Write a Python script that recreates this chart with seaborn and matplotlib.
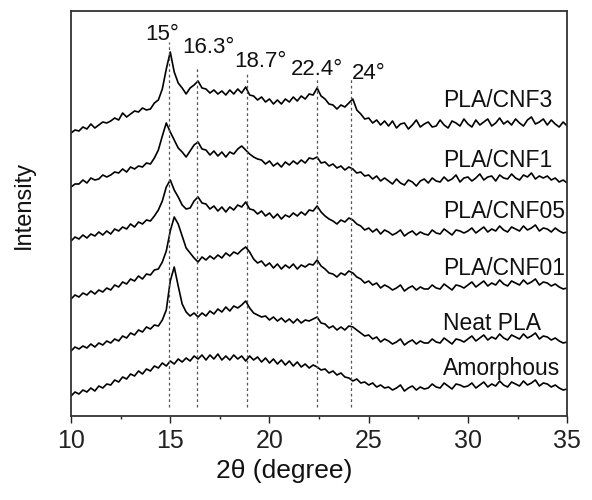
import numpy as np
import pandas as pd
import matplotlib
matplotlib.use("Agg")
import matplotlib.pyplot as plt
import seaborn as sns

# ---- data (intensity in arbitrary stacked units) ----
two_theta = np.round(np.linspace(10, 35, 126), 1)

pla_cnf3 = [283, 286, 285, 289, 287, 292, 288, 291, 294, 293,
            295, 298, 296, 303, 299, 302, 305, 304, 308, 306,
            307, 313, 316, 327, 347, 364, 344, 333, 328, 322,
            328, 331, 335, 328, 327, 323, 326, 322, 325, 321,
            326, 322, 327, 323, 329, 321, 320, 316, 319, 314,
            317, 312, 316, 312, 317, 314, 319, 315, 320, 317,
            322, 321, 328, 320, 317, 312, 311, 307, 311, 309,
            313, 317, 306, 302, 297, 298, 293, 296, 291, 295,
            290, 295, 288, 292, 293, 287, 291, 296, 289, 292,
            294, 289, 290, 296, 291, 288, 295, 293, 290, 297,
            292, 289, 296, 291, 294, 297, 290, 293, 298, 292,
            295, 291, 297, 293, 290, 296, 299, 292, 294, 297,
            291, 296, 292, 289, 294, 290]

pla_cnf1 = [229, 232, 232, 236, 233, 238, 236, 237, 241, 239,
            241, 244, 243, 247, 244, 249, 247, 250, 249, 253,
            252, 258, 266, 280, 293, 284, 276, 268, 264, 259,
            265, 271, 274, 267, 266, 261, 265, 260, 264, 259,
            264, 262, 267, 270, 266, 262, 259, 257, 256, 252,
            255, 250, 253, 249, 254, 251, 255, 252, 256, 253,
            258, 257, 259, 253, 254, 250, 252, 248, 250, 246,
            249, 247, 243, 244, 240, 241, 237, 240, 235, 238,
            235, 232, 237, 233, 231, 236, 234, 230, 235, 237,
            233, 238, 235, 234, 239, 235, 237, 241, 234, 238,
            239, 235, 238, 242, 236, 239, 240, 235, 241, 238,
            237, 242, 238, 236, 241, 239, 243, 237, 240, 238,
            240, 236, 238, 234, 236, 233]

pla_cnf05 = [175, 179, 177, 181, 178, 182, 180, 184, 181, 185,
             182, 187, 185, 189, 187, 192, 189, 194, 192, 196,
             195, 200, 206, 215, 229, 236, 226, 219, 211, 207,
             208, 215, 219, 213, 212, 207, 210, 205, 209, 204,
             209, 206, 211, 209, 214, 207, 206, 202, 205, 200,
             203, 198, 202, 197, 201, 199, 203, 200, 204, 201,
             206, 205, 210, 204, 200, 197, 195, 192, 196, 194,
             198, 196, 192, 190, 186, 188, 184, 187, 182, 186,
             184, 181, 183, 186, 180, 183, 185, 181, 184, 182,
             181, 186, 183, 182, 187, 184, 181, 186, 185, 183,
             185, 188, 183, 186, 189, 184, 187, 185, 190, 186,
             184, 189, 187, 185, 190, 186, 188, 191, 185, 188,
             187, 184, 188, 185, 183, 184]

pla_cnf01 = [117, 121, 119, 123, 121, 125, 122, 126, 124, 128,
             126, 131, 129, 134, 132, 137, 135, 140, 137, 142,
             141, 146, 147, 154, 165, 185, 199, 192, 180, 168,
             163, 158, 154, 159, 156, 160, 157, 161, 158, 163,
             160, 164, 162, 166, 169, 164, 157, 153, 155, 150,
             153, 148, 152, 147, 151, 148, 152, 147, 151, 149,
             152, 151, 156, 150, 147, 143, 142, 139, 143, 141,
             145, 143, 139, 137, 133, 135, 131, 133, 128, 131,
             129, 126, 128, 131, 125, 128, 130, 126, 129, 127,
             127, 131, 128, 127, 132, 129, 126, 131, 130, 128,
             131, 134, 129, 132, 135, 130, 133, 131, 136, 132,
             130, 135, 133, 131, 136, 132, 134, 137, 131, 134,
             133, 130, 132, 129, 127, 128]

neat_pla = [65, 69, 67, 70, 68, 72, 69, 73, 71, 75,
            73, 77, 75, 80, 78, 83, 81, 86, 84, 89,
            87, 91, 90, 96, 106, 135, 149, 130, 112, 104,
            100, 103, 99, 103, 100, 105, 102, 107, 104, 109,
            105, 110, 108, 111, 115, 108, 103, 101, 99, 100,
            96, 99, 95, 98, 94, 97, 93, 97, 93, 96,
            95, 97, 99, 93, 92, 88, 90, 86, 89, 86,
            90, 89, 86, 83, 80, 81, 77, 79, 74, 77,
            75, 72, 74, 77, 71, 74, 76, 72, 75, 73,
            73, 77, 74, 73, 78, 75, 72, 77, 76, 74,
            77, 80, 75, 78, 81, 76, 79, 77, 82, 78,
            76, 81, 79, 77, 82, 78, 80, 83, 77, 80,
            79, 76, 78, 75, 73, 74]

amorphous = [20, 24, 22, 26, 24, 28, 25, 30, 28, 32,
             31, 36, 34, 39, 37, 42, 40, 45, 42, 47,
             45, 50, 48, 53, 50, 55, 52, 57, 54, 58,
             55, 60, 57, 61, 56, 61, 57, 62, 56, 60,
             56, 61, 57, 60, 55, 60, 56, 59, 54, 58,
             53, 57, 52, 56, 51, 55, 50, 54, 49, 52,
             48, 51, 49, 46, 47, 43, 45, 41, 43, 39,
             38, 35, 37, 33, 34, 31, 33, 29, 31, 28,
             29, 26, 28, 31, 25, 28, 30, 26, 29, 27,
             28, 32, 29, 28, 33, 30, 27, 32, 31, 29,
             30, 33, 28, 31, 34, 29, 32, 30, 35, 31,
             29, 34, 32, 30, 35, 31, 33, 36, 30, 33,
             32, 29, 31, 28, 26, 27]

sample_names = ["PLA/CNF3", "PLA/CNF1", "PLA/CNF05", "PLA/CNF01", "Neat PLA", "Amorphous"]
label_y = [309, 249, 198, 141, 86, 41]

peak_pos = [14.95, 16.35, 18.85, 22.4, 24.1]
peak_top = [374, 348, 343, 338, 338]
peak_text = ["15°", "16.3°", "18.7°", "22.4°", "24°"]
peak_text_x = [14.6, 16.9, 19.55, 22.4, 25.0]
peak_text_y = [376, 363, 349, 341, 337]

# ---- build long table ----
series = [pla_cnf3, pla_cnf1, pla_cnf05, pla_cnf01, neat_pla, amorphous]
frames = []
for name, vals in zip(sample_names, series):
    frames.append(pd.DataFrame({"two_theta": two_theta, "intensity": vals, "sample": name}))
df = pd.concat(frames, ignore_index=True)

sns.set_style("white")
plt.rcParams["font.family"] = ["Liberation Sans", "DejaVu Sans"]

fig = plt.figure(figsize=(5.92, 5.00), dpi=100)
ax = fig.add_axes([0.120, 0.168, 0.838, 0.810])

sns.lineplot(data=df, x="two_theta", y="intensity", hue="sample",
             palette={n: "black" for n in sample_names}, estimator=None,
             legend=False, linewidth=1.2, ax=ax)

ax.vlines(peak_pos, ymin=9, ymax=peak_top, colors="#555555",
          linestyles=(0, (2.2, 2.2)), linewidth=0.9)

for t, xx, yy in zip(peak_text, peak_text_x, peak_text_y):
    ax.text(xx, yy, t, ha="center", va="baseline", fontsize=16, color="#111111")

for name, yy in zip(sample_names, label_y):
    ax.text(28.75, yy, name, ha="left", va="baseline", fontsize=16.5, color="#111111")

ax.set_xlim(10, 35)
ax.set_ylim(0, 405)
ax.set_xticks([10, 15, 20, 25, 30, 35])
ax.set_xticks([12.5, 17.5, 22.5, 27.5, 32.5], minor=True)
ax.set_yticks([])
ax.tick_params(axis="x", which="major", direction="out", length=5, width=1.0,
               labelsize=18, pad=4, bottom=True, colors="#222222")
ax.tick_params(axis="x", which="minor", direction="out", length=2.5, width=1.0, bottom=True,
               colors="#222222")
for s in ax.spines.values():
    s.set_visible(True)
    s.set_color("#333333")
    s.set_linewidth(1.3)

ax.set_xlabel("2θ (degree)", fontsize=19, color="#111111")
ax.set_ylabel("Intensity", fontsize=17, color="#111111")
ax.xaxis.set_label_coords(0.43, -0.105)
ax.yaxis.set_label_coords(-0.072, 0.52)

fig.savefig("out.png", dpi=100)
